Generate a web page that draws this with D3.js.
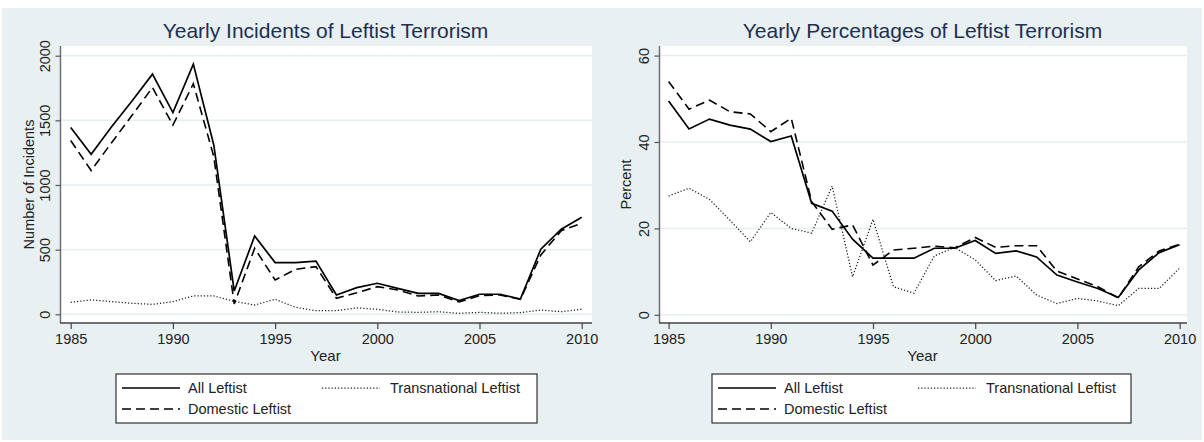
<!DOCTYPE html>
<html>
<head>
<meta charset="utf-8">
<script src="https://cdn.jsdelivr.net/npm/d3@7"></script>
<style>
  html, body { margin: 0; padding: 0; background: #ffffff; }
  svg { display: block; }
  text { font-family: "Liberation Sans", Arial, sans-serif; }
</style>
</head>
<body>
<svg id="chart" width="1204" height="442"></svg>
<script>
// Years covered by both panels
const years = d3.range(1985, 2011);

// Yearly counts of incidents
const allCounts = [1444, 1238, 1450, 1650, 1857, 1560, 1935, 1310, 180, 606, 400, 400, 412, 149, 206, 240, 201, 162, 162, 106, 155, 155, 118, 503, 658, 751];
const domesticCounts = [1344, 1112, 1327, 1539, 1754, 1463, 1783, 1220, 80, 511, 265, 348, 369, 124, 167, 214, 188, 142, 149, 95, 144, 150, 115, 459, 647, 705];
const transnationalCounts = [93, 111, 98, 85, 77, 98, 142, 142, 100, 72, 116, 54, 28, 28, 49, 39, 18, 15, 20, 8, 15, 8, 13, 33, 20, 39];

// Yearly percentages
const allPct = [49.5, 43.0, 45.3, 43.9, 43.0, 40.1, 41.4, 25.8, 24.0, 17.5, 13.1, 13.1, 13.1, 15.4, 15.4, 17.2, 14.2, 14.8, 13.4, 9.2, 7.6, 6.1, 4.0, 10.4, 14.4, 16.2];
const domesticPct = [54.0, 47.6, 49.7, 47.0, 46.5, 42.4, 45.5, 26.2, 19.8, 20.8, 11.5, 15.0, 15.4, 15.9, 15.5, 17.9, 15.6, 16.0, 16.0, 10.1, 8.3, 6.5, 3.9, 11.1, 14.8, 16.3];
const transnationalPct = [27.5, 29.3, 26.7, 21.9, 16.9, 23.7, 20.0, 18.9, 29.8, 8.8, 22.1, 6.5, 5.0, 13.6, 15.6, 12.7, 7.9, 9.0, 4.6, 2.6, 3.8, 3.2, 2.1, 6.1, 6.1, 10.8];

// Axis ticks and labels
const xTicks = [1985, 1990, 1995, 2000, 2005, 2010];
const countTicks = [0, 500, 1000, 1500, 2000];
const pctTicks = [0, 20, 40, 60];
const seriesNames = ["All Leftist", "Transnational Leftist", "Domestic Leftist"];

const svg = d3.select("#chart");
const BG = "#e8f0f2";
const GRID = "#e4eef0";
const TITLE = "#1e2f52";

// Outer graph region
svg.append("rect").attr("x", 2).attr("y", 8).attr("width", 1200).attr("height", 432).attr("fill", BG);

const lineStyles = {
  all: { dash: null, width: 1.7, color: "#000" },
  domestic: { dash: "9,5", width: 1.6, color: "#000" },
  transnational: { dash: "1.2,2", width: 1.25, color: "#1a1a1a" }
};

function panel(opts) {
  const g = svg.append("g");
  const { left, right, top, bottom } = opts.plot;

  // White plot region
  g.append("rect").attr("x", left).attr("y", top)
    .attr("width", right - left).attr("height", bottom - top).attr("fill", "#fff");

  const x = d3.scaleLinear().domain([1985, 2010]).range([opts.x0, opts.x1]);
  const y = d3.scaleLinear().domain(opts.yDomain).range(opts.yRange);

  // Horizontal gridlines
  g.append("g").selectAll("line").data(opts.yTicks).join("line")
    .attr("x1", left).attr("x2", right)
    .attr("y1", d => y(d)).attr("y2", d => y(d))
    .attr("stroke", GRID).attr("stroke-width", 1.5);

  // Series lines
  const line = d3.line().x((d, i) => x(years[i])).y(d => y(d));
  const series = [
    { values: opts.trans, style: lineStyles.transnational },
    { values: opts.dom, style: lineStyles.domestic },
    { values: opts.all, style: lineStyles.all }
  ];
  series.forEach(s => {
    g.append("path").datum(s.values)
      .attr("d", line)
      .attr("fill", "none")
      .attr("stroke", s.style.color)
      .attr("stroke-width", s.style.width)
      .attr("stroke-linejoin", "miter")
      .attr("stroke-dasharray", s.style.dash);
  });

  // Y axis
  const yAxis = d3.axisLeft(y).tickValues(opts.yTicks).tickFormat(d3.format("d"))
    .tickSize(5).tickPadding(0).tickSizeOuter(0);
  const ya = g.append("g").attr("transform", `translate(${left - 0.5},0)`).call(yAxis);
  ya.select(".domain").attr("d", `M0,${top}V${bottom}`).attr("stroke", "#6f6f6f").attr("stroke-width", 1.5);
  ya.selectAll(".tick line").attr("stroke", "#555").attr("stroke-width", 1.2);
  ya.selectAll(".tick text")
    .attr("x", 0).attr("dy", null).attr("y", -11)
    .attr("transform", "rotate(-90)")
    .attr("text-anchor", "middle")
    .attr("font-size", 14.5).attr("fill", "#222")
    .attr("font-family", "Liberation Sans, Arial, sans-serif");

  // X axis
  const xAxis = d3.axisBottom(x).tickValues(xTicks).tickFormat(d3.format("d"))
    .tickSize(6).tickPadding(5).tickSizeOuter(0);
  const xa = g.append("g").attr("transform", `translate(0,${bottom})`).call(xAxis);
  xa.select(".domain").attr("d", `M${left - 1},0H${right}`).attr("stroke", "#444").attr("stroke-width", 1.5);
  xa.selectAll(".tick line").attr("stroke", "#444").attr("stroke-width", 1.2);
  xa.selectAll(".tick text")
    .attr("font-size", 14.5).attr("fill", "#222")
    .attr("font-family", "Liberation Sans, Arial, sans-serif");

  // Titles
  g.append("text").attr("x", (left + right) / 2 - 1).attr("y", 37.5)
    .attr("text-anchor", "middle").attr("font-size", 21).attr("fill", TITLE)
    .text(opts.title);
  g.append("text").attr("x", (left + right) / 2 - 1).attr("y", 361)
    .attr("text-anchor", "middle").attr("font-size", 15).attr("fill", "#222")
    .text("Year");
  g.append("text")
    .attr("transform", `translate(${opts.yTitleX},${(top + bottom) / 2}) rotate(-90)`)
    .attr("text-anchor", "middle").attr("font-size", 14.5).attr("fill", "#222")
    .text(opts.yTitle);

  // Legend
  const L = opts.legend;
  const lg = g.append("g").attr("transform", `translate(${L.x},${L.y})`);
  lg.append("rect").attr("x", 0).attr("y", 0).attr("width", L.w).attr("height", 49)
    .attr("fill", "#fff").attr("stroke", "#333").attr("stroke-width", 1.2);
  const entries = [
    { name: seriesNames[0], style: lineStyles.all, dx: 6, dy: 14, gap: 66 },
    { name: seriesNames[1], style: lineStyles.transnational, dx: 206, dy: 14, gap: 68 },
    { name: seriesNames[2], style: lineStyles.domestic, dx: 6, dy: 35, gap: 66 }
  ];
  entries.forEach(e => {
    lg.append("line").attr("x1", e.dx).attr("x2", e.dx + 58)
      .attr("y1", e.dy).attr("y2", e.dy)
      .attr("stroke", e.style.color).attr("stroke-width", e.style.width)
      .attr("stroke-dasharray", e.style.dash);
    lg.append("text").attr("x", e.dx + e.gap).attr("y", e.dy + 5)
      .attr("font-size", 14.5).attr("fill", "#222").text(e.name);
  });
}

panel({
  title: "Yearly Incidents of Leftist Terrorism",
  yTitle: "Number of Incidents",
  yTitleX: 34,
  plot: { left: 61, right: 592, top: 46, bottom: 323 },
  x0: 70.7, x1: 581.7,
  yDomain: [0, 2000], yRange: [314.3, 55.7],
  yTicks: countTicks,
  all: allCounts, dom: domesticCounts, trans: transnationalCounts,
  legend: { x: 116, y: 374, w: 421 }
});

panel({
  title: "Yearly Percentages of Leftist Terrorism",
  yTitle: "Percent",
  yTitleX: 631,
  plot: { left: 660, right: 1187, top: 46, bottom: 323 },
  x0: 668.6, x1: 1179.6,
  yDomain: [0, 60], yRange: [314.8, 55.6],
  yTicks: pctTicks,
  all: allPct, dom: domesticPct, trans: transnationalPct,
  legend: { x: 712, y: 374, w: 419 }
});
</script>
</body>
</html>
